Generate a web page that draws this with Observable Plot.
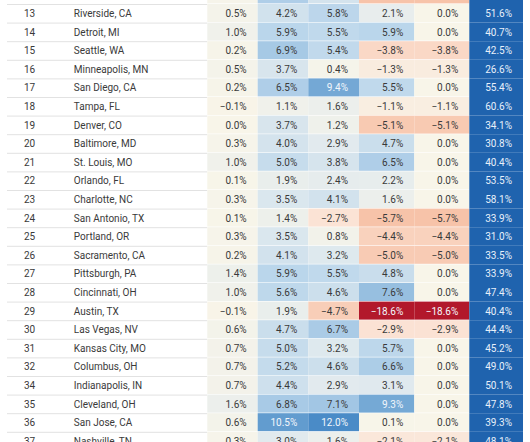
<!DOCTYPE html>
<html>
<head>
<meta charset="utf-8">
<script src="https://cdn.jsdelivr.net/npm/d3@7"></script>
<script src="https://cdn.jsdelivr.net/npm/@observablehq/plot@0.6"></script>
<style>
  html, body { margin: 0; padding: 0; background: #fff; overflow: hidden; }
</style>
</head>
<body>
<div id="chart"></div>
<script>
// ---- data ----
const ranks = ["12","13","14","15","16","17","18","19","20","21","22","23","24","25","26","27","28","29","30","31","32","34","35","36","37"];
const cities = ["San Francisco, CA","Riverside, CA","Detroit, MI","Seattle, WA","Minneapolis, MN","San Diego, CA","Tampa, FL","Denver, CO","Baltimore, MD","St. Louis, MO","Orlando, FL","Charlotte, NC","San Antonio, TX","Portland, OR","Sacramento, CA","Pittsburgh, PA","Cincinnati, OH","Austin, TX","Las Vegas, NV","Kansas City, MO","Columbus, OH","Indianapolis, IN","Cleveland, OH","San Jose, CA","Nashville, TN"];
const col1 = [0.3, 0.5, 1.0, 0.2, 0.5, 0.2, -0.1, 0.0, 0.3, 1.0, 0.1, 0.3, 0.1, 0.3, 0.2, 1.4, 1.0, -0.1, 0.6, 0.7, 0.7, 0.7, 1.6, 0.6, 0.3];
const col2 = [6.5, 4.2, 5.9, 6.9, 3.7, 6.5, 1.1, 3.7, 4.0, 5.0, 1.9, 3.5, 1.4, 3.5, 4.1, 5.9, 5.6, 1.9, 4.7, 5.0, 5.2, 4.4, 6.8, 10.5, 3.0];
const col3 = [4.0, 5.8, 5.5, 5.4, 0.4, 9.4, 1.6, 1.2, 2.9, 3.8, 2.4, 4.1, -2.7, 0.8, 3.2, 5.5, 4.6, -4.7, 6.7, 3.2, 4.6, 2.9, 7.1, 12.0, 1.6];
const col4 = [-5.7, 2.1, 5.9, -3.8, -1.3, 5.5, -1.1, -5.1, 4.7, 6.5, 2.2, 1.6, -5.7, -4.4, -5.0, 4.8, 7.6, -18.6, -2.9, 5.7, 6.6, 3.1, 9.3, 0.1, -2.1];
const col5 = [-5.7, 0.0, 0.0, -3.8, -1.3, 0.0, -1.1, -5.1, 0.0, 0.0, 0.0, 0.0, -5.7, -4.4, -5.0, 0.0, 0.0, -18.6, -2.9, 0.0, 0.0, 0.0, 0.0, 0.0, -2.1];
const col6 = [45.0, 51.6, 40.7, 42.5, 26.6, 55.4, 60.6, 34.1, 30.8, 40.4, 53.5, 58.1, 33.9, 31.0, 33.5, 33.9, 47.4, 40.4, 44.4, 45.2, 49.0, 50.1, 47.8, 39.3, 48.1];

// ---- derived tables ----
const valueCols = [col1, col2, col3, col4, col5];
const cells = [];
valueCols.forEach((arr, j) => arr.forEach((v, i) => cells.push({rank: ranks[i], col: j, value: v})));
const lastCells = col6.map((v, i) => ({rank: ranks[i], col: 5, value: v}));
const rows = ranks.map((r, i) => ({rank: r, city: cities[i]}));

// the first row is scrolled above the visible frame: only its cell colours peek in
const hidden = d => d.rank === ranks[0];
const shownRows = rows.filter(d => !hidden(d));
const shownCells = cells.filter(d => !hidden(d));
const shownLast = lastCells.filter(d => !hidden(d));

const fmt = d3.format(".1f");
const pct = d => fmt(d.value) + "%";
const isDark = d => Math.abs(d.value) > 9;

const font = "Roboto, 'Noto Sans', sans-serif";

const chart = Plot.plot({
  width: 530,
  height: 442,
  margin: 0,
  style: {fontFamily: font, background: "white"},
  x: {
    type: "linear",
    domain: [-3, -2, -1, 0, 1, 2, 3, 4, 5, 6],
    range: [7, 23.5, 73.3, 207.3, 257.7, 308.3, 359, 414.3, 469.3, 523],
    axis: null
  },
  y: {type: "band", domain: ranks, range: [-14.6, 450.4], padding: 0, round: false, axis: null},
  color: {
    type: "linear",
    domain: [-18.6, -6, -3, 0, 3, 6, 9, 12],
    range: ["#b2182b", "#f6c0a4", "#fbe1d3", "#f8f5e9", "#e1eaee", "#b9d5eb", "#7aacd7", "#4a8bc7"],
    clamp: true
  },
  marks: [
    Plot.ruleY(ranks, {y: d => d, dy: 9.3, x1: -3, x2: 0, stroke: "#e2e2e2", strokeWidth: 1}),
    Plot.barX(cells, {x1: "col", x2: d => d.col + 1, y: "rank", fill: "value", insetBottom: 0.6}),
    Plot.barX(lastCells, {x1: "col", x2: d => d.col + 1, y: "rank", fill: "#1f63ae"}),
    Plot.text(shownRows, {x: () => -2, y: "rank", text: "rank", textAnchor: "start", fill: "#3a3a3a", fontSize: 10}),
    Plot.text(shownRows, {x: () => -1, y: "rank", text: "city", textAnchor: "start", fill: "#3a3a3a", fontSize: 10}),
    Plot.text(shownCells.filter(d => !isDark(d)), {x: d => d.col + 1, y: "rank", text: pct, textAnchor: "end", dx: -11.5, fill: "#3a3a3a", fontSize: 10}),
    Plot.text(shownCells.filter(isDark), {x: d => d.col + 1, y: "rank", text: pct, textAnchor: "end", dx: -11.5, fill: "#f2f6fb", fontSize: 10}),
    Plot.text(shownLast, {x: d => d.col + 1, y: "rank", text: pct, textAnchor: "end", dx: -11.5, fill: "#e8f0fa", fontSize: 10})
  ]
});
document.getElementById("chart").appendChild(chart);
</script>
</body>
</html>
